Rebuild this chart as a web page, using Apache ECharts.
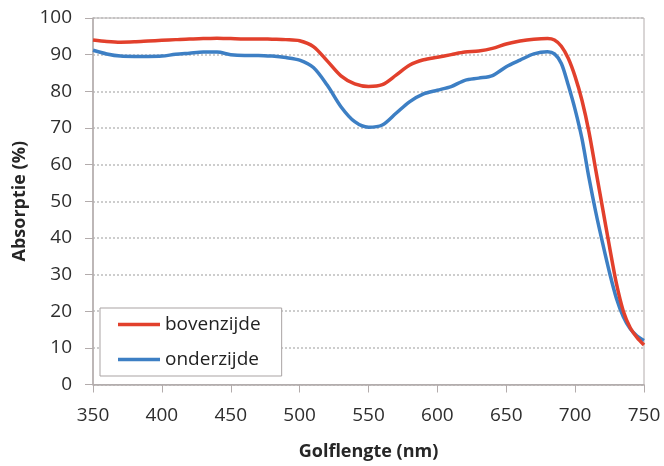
<!DOCTYPE html>
<html>
<head>
<meta charset="utf-8">
<script src="https://cdn.jsdelivr.net/npm/echarts@6/dist/echarts.min.js"></script>
<style>
  html, body { margin: 0; padding: 0; background: #fff; }
  #chart { width: 664px; height: 466px; }
</style>
</head>
<body>
<div id="chart"></div>
<script>
// Absorption spectra of the upper and lower leaf side
const wavelengths = [350, 360, 370, 380, 390, 400, 410, 420, 430, 440, 450, 460, 470, 480, 490,
  500, 510, 520, 530, 540, 550, 560, 570, 580, 590, 600, 610, 620, 630, 640, 650, 660, 670, 680,
  685, 690, 695, 700, 705, 710, 715, 720, 725, 730, 735, 740, 745, 750];

const bovenzijde = [94.0, 93.6, 93.4, 93.5, 93.7, 93.9, 94.1, 94.3, 94.4, 94.5, 94.4, 94.3, 94.3, 94.2, 94.1,
  93.8, 92.2, 88.3, 84.2, 82.0, 81.3, 81.8, 84.4, 87.2, 88.6, 89.3, 90.0, 90.7, 91.0, 91.7, 92.9, 93.7, 94.2, 94.4,
  94.0, 92.3, 89.0, 84.0, 77.5, 69.0, 58.5, 48.0, 37.5, 27.5, 20.0, 15.5, 12.8, 10.8];

const onderzijde = [91.2, 90.2, 89.6, 89.5, 89.5, 89.6, 90.1, 90.4, 90.7, 90.7, 90.0, 89.8, 89.8, 89.6, 89.2,
  88.5, 86.5, 81.7, 75.8, 71.7, 70.2, 70.8, 74.0, 77.2, 79.3, 80.3, 81.3, 83.0, 83.6, 84.3, 86.7, 88.5, 90.2, 90.8,
  90.2, 87.6, 81.7, 75.0, 67.0, 56.5, 47.0, 38.5, 30.5, 23.5, 18.5, 15.2, 13.2, 12.0];

const seriesNames = ['bovenzijde', 'onderzijde'];
const seriesColors = ['#e2402c', '#3d7fc4'];
const xTitle = 'Golflengte (nm)';
const yTitle = 'Absorptie (%)';

const pairs = (vals) => wavelengths.map((w, i) => [w, vals[i]]);

const FONT = '"Open Sans", sans-serif';
const axisGray = '#b3acac';

const chart = echarts.init(document.getElementById('chart'), null, { renderer: 'canvas' });
chart.setOption({
  backgroundColor: '#ffffff',
  animation: false,
  grid: {
    left: 93, right: 20, top: 18, bottom: 81.5,
    show: true, borderColor: axisGray, borderWidth: 1, backgroundColor: 'transparent'
  },
  xAxis: {
    type: 'value', min: 350, max: 750, interval: 50,
    name: xTitle, nameLocation: 'middle', nameGap: 58,
    nameTextStyle: { fontFamily: FONT, fontSize: 18, fontWeight: 'bold', color: '#262626' },
    axisLine: { show: true, lineStyle: { color: axisGray, width: 1.5 } },
    axisTick: { show: true, inside: false, length: 8, lineStyle: { color: axisGray } },
    axisLabel: { fontFamily: FONT, fontSize: 19, color: '#2e2e2e', margin: 22 },
    splitLine: { show: false }
  },
  yAxis: {
    type: 'value', min: 0, max: 100, interval: 10,
    name: yTitle, nameLocation: 'middle', nameGap: 64,
    nameTextStyle: { fontFamily: FONT, fontSize: 18, fontWeight: 'bold', color: '#262626' },
    axisLine: { show: true, lineStyle: { color: axisGray, width: 1.5 } },
    axisTick: { show: true, inside: false, length: 8, lineStyle: { color: axisGray } },
    axisLabel: { fontFamily: FONT, fontSize: 19, color: '#2e2e2e', margin: 21 },
    splitLine: { show: true, lineStyle: { color: '#bdbdbd', type: [2, 2], width: 1.5 } }
  },
  legend: {
    orient: 'vertical', left: 100, top: 308,
    data: seriesNames,
    icon: 'rect', itemWidth: 42, itemHeight: 3.5, itemGap: 14,
    padding: [6, 21, 6, 18],
    borderColor: '#a9a3a3', borderWidth: 1, backgroundColor: '#fff',
    textStyle: { fontFamily: FONT, fontSize: 19, color: '#222', lineHeight: 21 }
  },
  series: seriesNames.map((name, k) => ({
    name: name,
    type: 'line',
    data: pairs(k === 0 ? bovenzijde : onderzijde),
    smooth: 0.3,
    showSymbol: false,
    color: seriesColors[k],
    lineStyle: { width: 3.5, color: seriesColors[k] },
    z: k === 0 ? 3 : 2
  }))
});
</script>
</body>
</html>
